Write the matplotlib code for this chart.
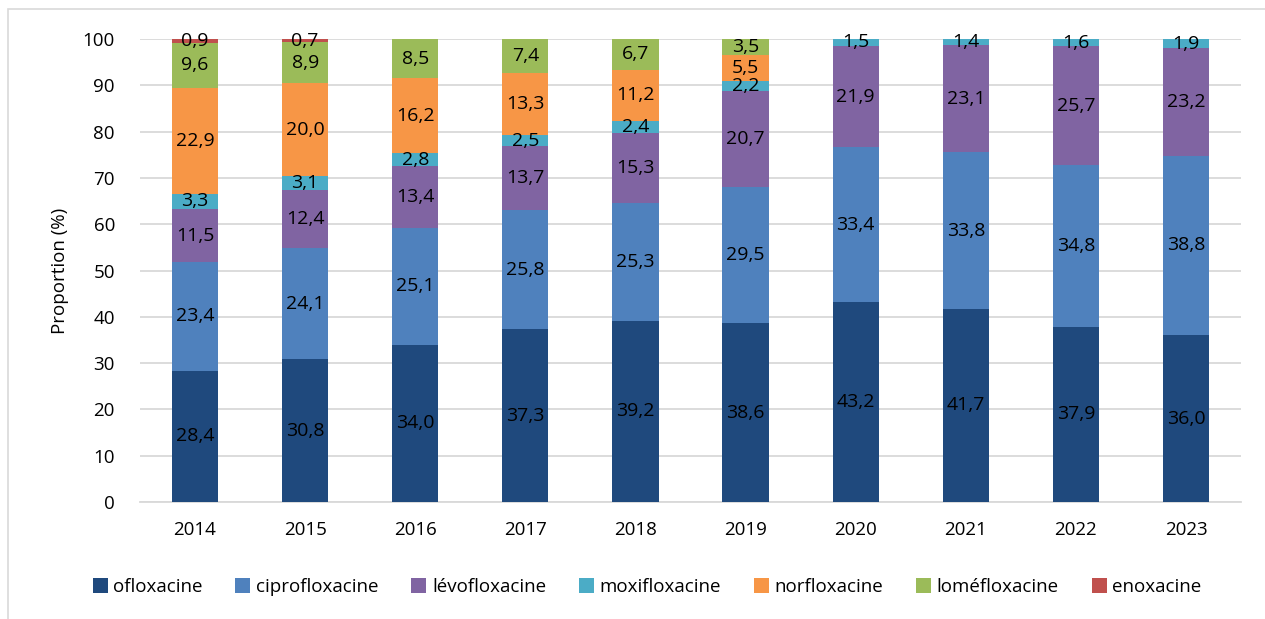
import matplotlib
matplotlib.use("Agg")
import matplotlib.pyplot as plt
from matplotlib.patches import Rectangle
import numpy as np

plt.rcParams['font.family'] = ['Open Sans', 'DejaVu Sans']

years = ["2014", "2015", "2016", "2017", "2018", "2019", "2020", "2021", "2022", "2023"]
series_names = ["ofloxacine", "ciprofloxacine", "lévofloxacine", "moxifloxacine",
                "norfloxacine", "loméfloxacine", "enoxacine"]
ofloxacine = [28.4, 30.8, 34.0, 37.3, 39.2, 38.6, 43.2, 41.7, 37.9, 36.0]
ciprofloxacine = [23.4, 24.1, 25.1, 25.8, 25.3, 29.5, 33.4, 33.8, 34.8, 38.8]
levofloxacine = [11.5, 12.4, 13.4, 13.7, 15.3, 20.7, 21.9, 23.1, 25.7, 23.2]
moxifloxacine = [3.3, 3.1, 2.8, 2.5, 2.4, 2.2, 1.5, 1.4, 1.6, 1.9]
norfloxacine = [22.9, 20.0, 16.2, 13.3, 11.2, 5.5, 0, 0, 0, 0]
lomefloxacine = [9.6, 8.9, 8.5, 7.4, 6.7, 3.5, 0, 0, 0, 0]
enoxacine = [0.9, 0.7, 0, 0, 0, 0, 0, 0, 0, 0]
colors = ["#1F497D", "#4F81BD", "#8064A2", "#4BACC6", "#F79646", "#9BBB59", "#C0504D"]

data = [ofloxacine, ciprofloxacine, levofloxacine, moxifloxacine,
        norfloxacine, lomefloxacine, enoxacine]

W, H = 1265, 619
fig = plt.figure(figsize=(W / 100, H / 100), dpi=100)
ax = fig.add_axes([140 / W, 1 - 502 / H, (1241 - 140) / W, (502 - 39) / H])

x = np.arange(len(years))
bottom = np.zeros(len(years))
handles = []
for name, vals, col in zip(series_names, data, colors):
    vals = np.array(vals, dtype=float)
    bars = ax.bar(x, vals, width=0.42, bottom=bottom, color=col, label=name, zorder=3)
    handles.append(bars)
    for xi, v, b in zip(x, vals, bottom):
        if v > 0:
            ax.text(xi, b + v / 2, f"{v:.1f}".replace(".", ","), ha="center", va="center",
                    fontsize=14, color="black", zorder=4)
    bottom += vals

ax.set_xlim(-0.5, len(years) - 0.5)
ax.set_ylim(0, 100)
ax.set_yticks(np.arange(0, 101, 10))
ax.set_xticks(x)
ax.set_xticklabels(years)
ax.tick_params(axis="both", length=0, labelsize=13.5, colors="#000000")
ax.tick_params(axis="y", pad=18)
ax.tick_params(axis="x", pad=14)
ax.yaxis.grid(True, color="#D9D9D9", linewidth=1.3, zorder=0)
for s in ["top", "right", "left"]:
    ax.spines[s].set_visible(False)
ax.spines["bottom"].set_color("#D9D9D9")
ax.spines["bottom"].set_linewidth(1.3)
ax.set_ylabel("Proportion (%)", fontsize=13.5, labelpad=10)

leg = fig.legend(handles=handles, labels=series_names, loc="center",
                 bbox_to_anchor=(647 / W, 1 - 587 / H), ncol=7, frameon=False,
                 fontsize=13.5, handlelength=0.8, handleheight=0.8, handletextpad=0.3,
                 columnspacing=1.75)

fig.patches.append(Rectangle((8 / W, -0.1), 1.2, 1 - 9 / H + 0.1, transform=fig.transFigure,
                             fill=False, edgecolor="#D9D9D9", linewidth=1.2))

fig.savefig("out.png", dpi=100)
